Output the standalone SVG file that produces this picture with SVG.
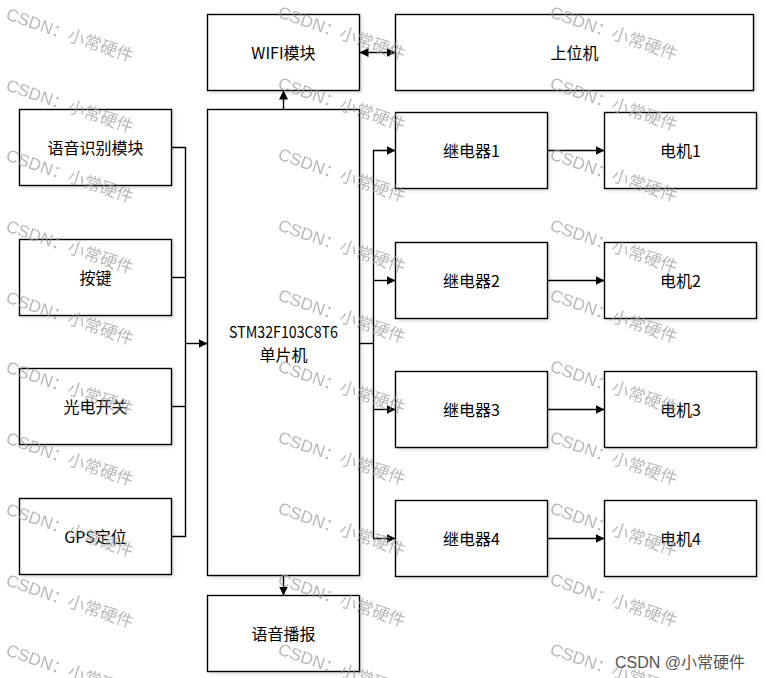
<svg xmlns="http://www.w3.org/2000/svg" width="766" height="678" viewBox="0 0 766 678">
<style>
.box{fill:#fff;stroke:#000;stroke-width:1.4;filter:url(#sh)}
.lbl{font-family:"Noto Sans CJK SC","Liberation Sans",sans-serif;font-size:16px;fill:#000;text-anchor:middle;dominant-baseline:central}
.ln{fill:none;stroke:#000;stroke-width:1.4}
.arr{marker-end:url(#ah)}
.wm{font-family:"Liberation Sans","Noto Sans CJK SC",sans-serif;font-size:17px;fill:#9a9a9a;opacity:0.7}
.cr{font-family:"Liberation Sans","Noto Sans CJK SC",sans-serif;font-size:16px;fill:#555}
</style>
<defs>
<filter id="sh" x="-10%" y="-10%" width="120%" height="130%">
<feDropShadow dx="2" dy="2" stdDeviation="1.5" flood-color="#000" flood-opacity="0.12"/>
</filter>
<marker id="ah" viewBox="0 0 10 10" refX="10" refY="5" markerUnits="userSpaceOnUse" markerWidth="9" markerHeight="9" orient="auto-start-reverse">
<path d="M0,0 L10,5 L0,10 z" fill="#000"/>
</marker>
</defs>
<rect width="766" height="678" fill="#fff"/>

<g id="n-wifi"><rect class="box" x="207.5" y="14.5" width="152" height="76"/><text class="lbl" x="283.5" y="52">WIFI模块</text></g>
<g id="n-host"><rect class="box" x="395.5" y="14.5" width="358" height="76"/><text class="lbl" x="574.5" y="52">上位机</text></g>
<g id="n-mcu"><rect class="box" x="207.5" y="109.5" width="152" height="466"/><text class="lbl" x="283.5" y="331" textLength="109" lengthAdjust="spacingAndGlyphs">STM32F103C8T6</text><text class="lbl" x="283.5" y="354">单片机</text></g>
<g id="n-voicerec"><rect class="box" x="19.5" y="109.5" width="152" height="76"/><text class="lbl" x="95.5" y="147">语音识别模块</text></g>
<g id="n-key"><rect class="box" x="19.5" y="239.5" width="152" height="76"/><text class="lbl" x="95.5" y="277">按键</text></g>
<g id="n-photo"><rect class="box" x="19.5" y="368.5" width="152" height="76"/><text class="lbl" x="95.5" y="406">光电开关</text></g>
<g id="n-gps"><rect class="box" x="19.5" y="498.5" width="152" height="76"/><text class="lbl" x="95.5" y="536">GPS定位</text></g>
<g id="n-speaker"><rect class="box" x="207.5" y="595.5" width="152" height="76"/><text class="lbl" x="283.5" y="633">语音播报</text></g>
<g id="n-relay1"><rect class="box" x="395.5" y="112.5" width="152" height="76"/><text class="lbl" x="471.5" y="150">继电器1</text></g>
<g id="n-relay2"><rect class="box" x="395.5" y="242.5" width="152" height="76"/><text class="lbl" x="471.5" y="280">继电器2</text></g>
<g id="n-relay3"><rect class="box" x="395.5" y="371.5" width="152" height="76"/><text class="lbl" x="471.5" y="409">继电器3</text></g>
<g id="n-relay4"><rect class="box" x="395.5" y="500.5" width="152" height="76"/><text class="lbl" x="471.5" y="538">继电器4</text></g>
<g id="n-motor1"><rect class="box" x="604.5" y="112.5" width="152" height="76"/><text class="lbl" x="680.5" y="150">电机1</text></g>
<g id="n-motor2"><rect class="box" x="604.5" y="242.5" width="152" height="76"/><text class="lbl" x="680.5" y="280">电机2</text></g>
<g id="n-motor3"><rect class="box" x="604.5" y="371.5" width="152" height="76"/><text class="lbl" x="680.5" y="409">电机3</text></g>
<g id="n-motor4"><rect class="box" x="604.5" y="500.5" width="152" height="76"/><text class="lbl" x="680.5" y="538">电机4</text></g>

<g id="connectors">
<path class="ln arr" d="M283.5,109.5 V90.5"/>
<path class="ln" d="M359.5,52.5 H395.5" marker-start="url(#ah)" marker-end="url(#ah)"/>
<path class="ln" d="M171.5,147.5 H185.5 V536.5 H171.5"/>
<path class="ln" d="M171.5,277.5 H185.5"/>
<path class="ln" d="M171.5,406.5 H185.5"/>
<path class="ln arr" d="M185.5,343.5 H207.5"/>
<path class="ln" d="M359.5,343.5 H373.5"/>
<path class="ln arr" d="M395.5,150.5 H373.5 V538.5 H395.5" marker-start="url(#ah)"/>
<path class="ln arr" d="M373.5,280.5 H395.5"/>
<path class="ln arr" d="M373.5,409.5 H395.5"/>
<path class="ln arr" d="M547.5,150.5 H604.5"/>
<path class="ln arr" d="M547.5,280.5 H604.5"/>
<path class="ln arr" d="M547.5,409.5 H604.5"/>
<path class="ln arr" d="M547.5,538.5 H604.5"/>
<path class="ln arr" d="M283.5,575.5 V595.5"/>
</g>

<g id="watermarks">
<text class="wm" transform="translate(5,19) rotate(19)">CSDN：小常硬件</text>
<text class="wm" transform="translate(5,90) rotate(19)">CSDN：小常硬件</text>
<text class="wm" transform="translate(5,160) rotate(19)">CSDN：小常硬件</text>
<text class="wm" transform="translate(5,231) rotate(19)">CSDN：小常硬件</text>
<text class="wm" transform="translate(5,302) rotate(19)">CSDN：小常硬件</text>
<text class="wm" transform="translate(5,372) rotate(19)">CSDN：小常硬件</text>
<text class="wm" transform="translate(5,443) rotate(19)">CSDN：小常硬件</text>
<text class="wm" transform="translate(5,514) rotate(19)">CSDN：小常硬件</text>
<text class="wm" transform="translate(5,585) rotate(19)">CSDN：小常硬件</text>
<text class="wm" transform="translate(5,655) rotate(19)">CSDN：小常硬件</text>
<text class="wm" transform="translate(277,17) rotate(19)">CSDN：小常硬件</text>
<text class="wm" transform="translate(277,88) rotate(19)">CSDN：小常硬件</text>
<text class="wm" transform="translate(277,159) rotate(19)">CSDN：小常硬件</text>
<text class="wm" transform="translate(277,230) rotate(19)">CSDN：小常硬件</text>
<text class="wm" transform="translate(277,300) rotate(19)">CSDN：小常硬件</text>
<text class="wm" transform="translate(277,371) rotate(19)">CSDN：小常硬件</text>
<text class="wm" transform="translate(277,442) rotate(19)">CSDN：小常硬件</text>
<text class="wm" transform="translate(277,513) rotate(19)">CSDN：小常硬件</text>
<text class="wm" transform="translate(277,584) rotate(19)">CSDN：小常硬件</text>
<text class="wm" transform="translate(277,654) rotate(19)">CSDN：小常硬件</text>
<text class="wm" transform="translate(549,17) rotate(19)">CSDN：小常硬件</text>
<text class="wm" transform="translate(549,88) rotate(19)">CSDN：小常硬件</text>
<text class="wm" transform="translate(549,159) rotate(19)">CSDN：小常硬件</text>
<text class="wm" transform="translate(549,230) rotate(19)">CSDN：小常硬件</text>
<text class="wm" transform="translate(549,300) rotate(19)">CSDN：小常硬件</text>
<text class="wm" transform="translate(549,371) rotate(19)">CSDN：小常硬件</text>
<text class="wm" transform="translate(549,442) rotate(19)">CSDN：小常硬件</text>
<text class="wm" transform="translate(549,513) rotate(19)">CSDN：小常硬件</text>
<text class="wm" transform="translate(549,584) rotate(19)">CSDN：小常硬件</text>
<text class="wm" transform="translate(549,654) rotate(19)">CSDN：小常硬件</text>
</g>
<text class="cr" x="615" y="668">CSDN @小常硬件</text>
</svg>
